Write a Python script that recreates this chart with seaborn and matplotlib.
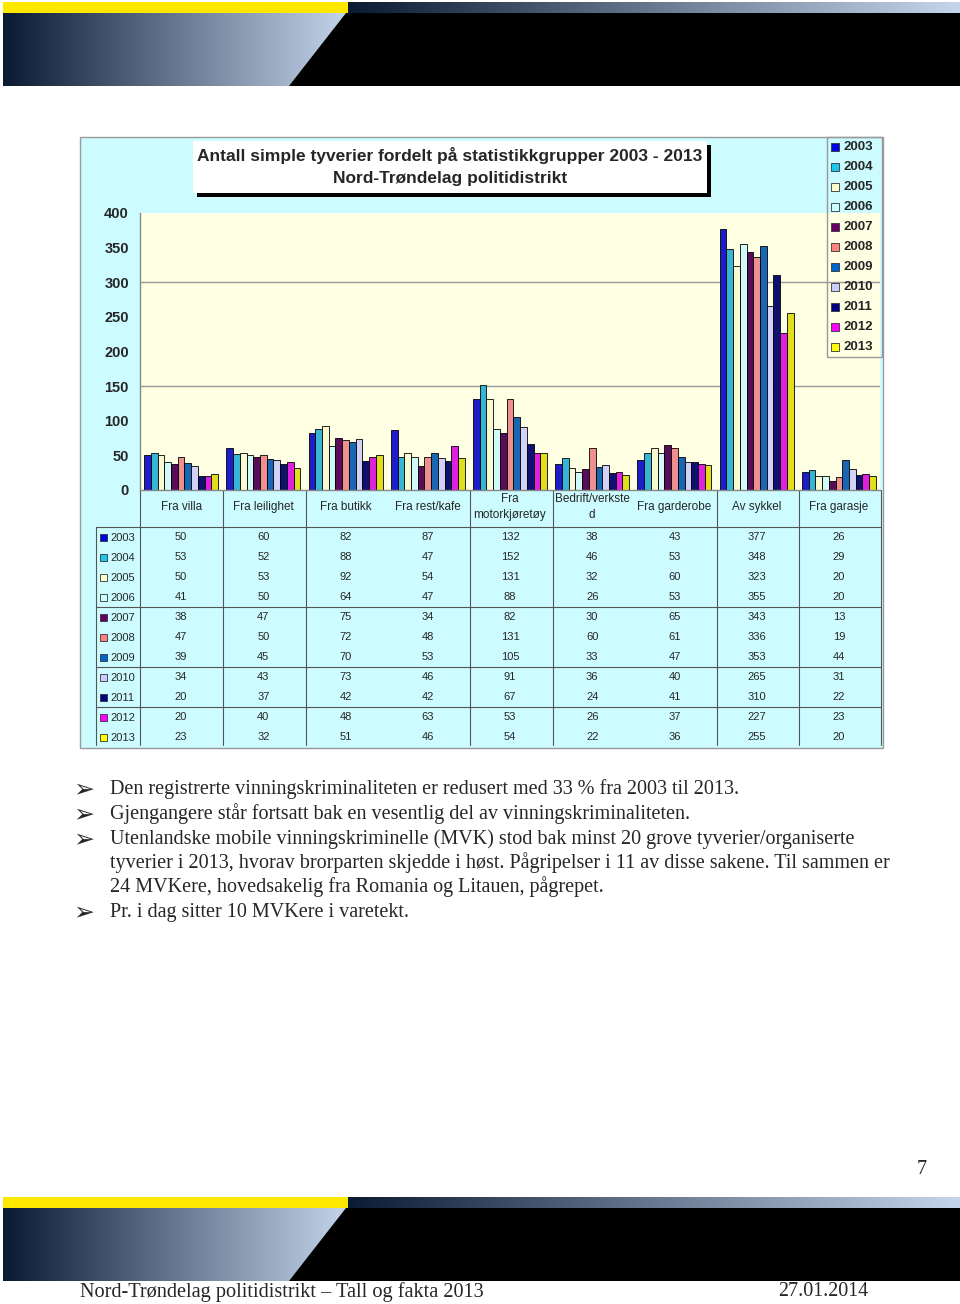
import numpy as np
import pandas as pd
import matplotlib.pyplot as plt
from matplotlib.colors import LinearSegmentedColormap
from matplotlib.patches import Rectangle, Polygon
import seaborn as sns

sns.set_theme(style="white")
plt.rcParams['font.family'] = ['Liberation Sans', 'DejaVu Sans']

years = ["2003", "2004", "2005", "2006", "2007", "2008", "2009", "2010", "2011", "2012", "2013"]
categories = ["Fra villa", "Fra leilighet", "Fra butikk", "Fra rest/kafe", "Fra\nmotorkjøretøy",
              "Bedrift/verkste\nd", "Fra garderobe", "Av sykkel", "Fra garasje"]

fra_villa = [50, 53, 50, 41, 38, 47, 39, 34, 20, 20, 23]
fra_leilighet = [60, 52, 53, 50, 47, 50, 45, 43, 37, 40, 32]
fra_butikk = [82, 88, 92, 64, 75, 72, 70, 73, 42, 48, 51]
fra_rest_kafe = [87, 47, 54, 47, 34, 48, 53, 46, 42, 63, 46]
fra_motorkjoretoy = [132, 152, 131, 88, 82, 131, 105, 91, 67, 53, 54]
bedrift_verksted = [38, 46, 32, 26, 30, 60, 33, 36, 24, 26, 22]
fra_garderobe = [43, 53, 60, 53, 65, 61, 47, 40, 41, 37, 36]
av_sykkel = [377, 348, 323, 355, 343, 336, 353, 265, 310, 227, 255]
fra_garasje = [26, 29, 20, 20, 13, 19, 44, 31, 22, 23, 20]

year_colors = ["#0000E6", "#1CC6EE", "#FFFFCC", "#CCFFFF", "#660066", "#FF8080",
               "#0066CC", "#CCCCFF", "#000080", "#FF00FF", "#FFFF00"]

bullets = [
    ["Den registrerte vinningskriminaliteten er redusert med 33 % fra 2003 til 2013."],
    ["Gjengangere står fortsatt bak en vesentlig del av vinningskriminaliteten."],
    ["Utenlandske mobile vinningskriminelle (MVK) stod bak minst 20 grove tyverier/organiserte",
     "tyverier i 2013, hvorav brorparten skjedde i høst. Pågripelser i 11 av disse sakene. Til sammen er",
     "24 MVKere, hovedsakelig fra Romania og Litauen, pågrepet."],
    ["Pr. i dag sitter 10 MVKere i varetekt."],
]

series = [fra_villa, fra_leilighet, fra_butikk, fra_rest_kafe, fra_motorkjoretoy,
          bedrift_verksted, fra_garderobe, av_sykkel, fra_garasje]
rows = []
for cat, vals in zip(categories, series):
    for yr, v in zip(years, vals):
        rows.append({"kategori": cat, "år": yr, "antall": v})
df = pd.DataFrame(rows)

fig = plt.figure(figsize=(9.6, 13.04), dpi=100)
bg = fig.add_axes([0, 0, 1, 1])
bg.axis("off")

# slide banners (header and footer)
dark_light = LinearSegmentedColormap.from_list("band", ["#0b1a33", "#c4d5ec"])
grad = np.linspace(0, 1, 256).reshape(1, -1)


def banner(top):
    bg.add_patch(Rectangle((3, top), 345, 11, color="#FFE800", lw=0))
    bg.imshow(grad, cmap=dark_light, extent=[345, 960, top + 11, top], aspect="auto")
    bg.imshow(grad, cmap=dark_light, extent=[3, 350, top + 84, top + 11], aspect="auto")
    bg.add_patch(Polygon([(346, top + 11), (960, top + 11), (960, top + 84), (289, top + 84)],
                         closed=True, color="black", lw=0))


banner(2)
banner(1197)
bg.set_xlim(0, 960)
bg.set_ylim(1304, 0)

# chart frame
bg.add_patch(Rectangle((80, 137), 803, 611, facecolor="#CCFCFF", edgecolor="#999999", lw=1))

# bar chart
ax = fig.add_axes([140 / 960, 1 - 490 / 1304, 740 / 960, 277 / 1304])
ax.set_facecolor("#FFFFE4")
sns.barplot(data=df, x="kategori", y="antall", hue="år", palette=year_colors,
            width=0.9, edgecolor="black", linewidth=0.6, legend=False, ax=ax)
for y in (150, 300):
    ax.axhline(y, color="#999999", lw=1, zorder=0)
ax.set_ylim(0, 400)
ax.set_xlim(-0.5, len(categories) - 0.5)
ax.set_yticks(range(0, 401, 50))
ax.set_yticklabels([str(t) for t in range(0, 401, 50)], fontsize=10.5, fontweight="bold")
ax.tick_params(axis="y", length=0, pad=8)
ax.set_xticks([])
ax.set_xlabel("")
ax.set_ylabel("")
for s in ("top", "right"):
    ax.spines[s].set_visible(False)
for s in ("left", "bottom"):
    ax.spines[s].set_color("#888888")
    ax.spines[s].set_linewidth(1)

# overlay for everything drawn above the bars
ov = fig.add_axes([0, 0, 1, 1])
ov.patch.set_alpha(0)
ov.axis("off")
ov.set_xlim(0, 960)
ov.set_ylim(1304, 0)

# title box
bg.add_patch(Rectangle((197, 145), 514, 52, color="black", lw=0, zorder=5))
bg.add_patch(Rectangle((193, 141), 514, 52, facecolor="white", edgecolor="none", zorder=6))
bg.text(450, 156, "Antall simple tyverier fordelt på statistikkgrupper 2003 - 2013",
        ha="center", va="center", fontsize=12.5, fontweight="bold", zorder=7)
bg.text(450, 178, "Nord-Trøndelag politidistrikt", ha="center", va="center",
        fontsize=12.5, fontweight="bold", zorder=7)

# data table below the chart
col_w = 740 / len(categories)
for i, cat in enumerate(categories):
    bg.text(140 + (i + 0.5) * col_w, 507, cat, ha="center", va="center", fontsize=8.5,
            linespacing=1.5)
for x in (140, 223, 306, 470, 553, 717, 799, 881):
    bg.plot([x, x], [490, 745], color="#555555", lw=0.8)
bg.plot([96, 881], [527, 527], color="#555555", lw=0.8)
bg.plot([96, 96], [527, 745], color="#555555", lw=0.8)
for y in (607, 667, 707):
    bg.plot([96, 881], [y, y], color="#555555", lw=0.8)
for j, yr in enumerate(years):
    yc = 537 + j * 20
    bg.add_patch(Rectangle((100, yc - 3), 7, 7, facecolor=year_colors[j], edgecolor="#333333", lw=0.6))
    bg.text(110, yc + 1, yr, ha="left", va="center", fontsize=8)
    sub = df[df["år"] == yr]
    for i, cat in enumerate(categories):
        v = sub.loc[sub["kategori"] == cat, "antall"].iloc[0]
        bg.text(140 + (i + 0.5) * col_w, yc, str(v), ha="center", va="center", fontsize=8)

# legend
ov.add_patch(Rectangle((827, 137), 55, 220, facecolor="none", edgecolor="#999999", lw=1))
for j, yr in enumerate(years):
    yc = 147 + j * 20
    ov.add_patch(Rectangle((831, yc - 4), 8, 8, facecolor=year_colors[j], edgecolor="#333333", lw=0.6))
    ov.text(843, yc, yr, ha="left", va="center", fontsize=9.5, fontweight="bold")

# bullet text
serif = ["Liberation Serif", "DejaVu Serif"]
line_y = 789
for lines in bullets:
    bg.text(84, line_y, "➢", ha="center", va="center", fontsize=18, family=["DejaVu Sans"])
    for ln in lines:
        bg.text(110, line_y, ln, ha="left", va="center", fontsize=14.5, family=serif)
        line_y += 24
    line_y += 1

# footer
bg.text(922, 1170, "7", ha="center", va="center", fontsize=14.5, family=serif)
bg.text(80, 1292, "Nord-Trøndelag politidistrikt – Tall og fakta 2013", ha="left", va="center",
        fontsize=14.6, family=serif)
bg.text(778, 1292, "27.01.2014", ha="left", va="center", fontsize=14.4, family=serif)

fig.savefig("out.png", dpi=100)
